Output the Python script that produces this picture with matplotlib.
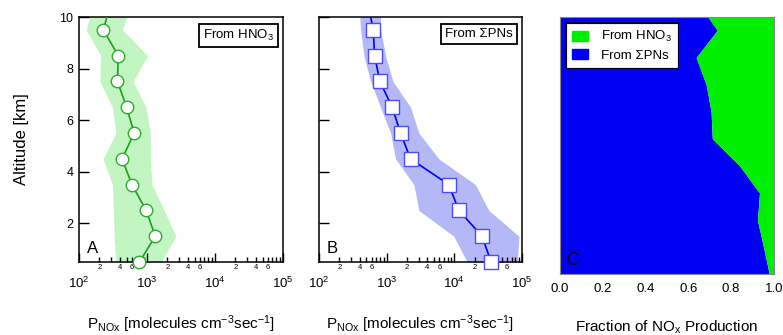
import matplotlib
matplotlib.use("Agg")
import matplotlib.pyplot as plt
import matplotlib.ticker as mticker
import matplotlib.patches as mpatches
import matplotlib.patheffects as pe
import numpy as np

plt.rcParams["font.family"] = ["Liberation Sans", "DejaVu Sans"]
plt.rcParams["mathtext.fontset"] = "custom"
plt.rcParams["mathtext.rm"] = "Liberation Sans"
plt.rcParams["mathtext.it"] = "Liberation Sans:italic"
plt.rcParams["mathtext.bf"] = "Liberation Sans:bold"

# altitude bins (km); the last one sits above the plotted range
altitude = [0.5, 1.5, 2.5, 3.5, 4.5, 5.5, 6.5, 7.5, 8.5, 9.5, 10.5]

# NOx production from HNO3 photolysis (molecules cm-3 s-1)
hno3 = [775, 1322, 975, 600, 430, 648, 502, 368, 378, 228, 290]
hno3_lo = [348, 328, 321, 310, 226, 348, 310, 202, 209, 128, 161]
hno3_hi = [1604, 2669, 1795, 1181, 1117, 1117, 963, 626, 1019, 436, 585]

# NOx production from sum of peroxynitrates
pns = [34900, 25700, 11640, 8280, 2254, 1604, 1208, 794, 663, 634, 530]
pns_lo = [15450, 9820, 2990, 2523, 1353, 1142, 813, 579, 461, 412, 389]
pns_hi = [85000, 90000, 32300, 20500, 5900, 2990, 2254, 1236, 963, 813, 813]

alt = np.array(altitude)
frac_pns = np.array(pns) / (np.array(pns) + np.array(hno3))

fig = plt.figure(figsize=(7.83, 3.35), dpi=100)
axA = fig.add_axes([0.1009, 0.2179, 0.2605, 0.7313])
axB = fig.add_axes([0.4074, 0.2179, 0.2593, 0.7313])
axC = fig.add_axes([0.7148, 0.1812, 0.2737, 0.7690])

xlab = r"P$_{\mathrm{NOx}}$ [molecules cm$^{-3}$sec$^{-1}$]"


def minor_fmt(x, pos):
    m = x / 10 ** np.floor(np.log10(x) + 1e-9)
    m = int(round(m))
    return str(m) if m in (2, 4, 6) else ""


def style_log_axis(ax):
    ax.set_xscale("log")
    ax.set_xlim(1e2, 1e5)
    ax.set_ylim(0.5, 10)
    ax.xaxis.set_major_locator(mticker.LogLocator(base=10, numticks=10))
    ax.xaxis.set_minor_locator(mticker.LogLocator(base=10, subs=range(2, 10), numticks=20))
    ax.xaxis.set_minor_formatter(mticker.FuncFormatter(minor_fmt))
    ax.set_yticks([2, 4, 6, 8, 10])
    ax.tick_params(axis="x", which="major", direction="in", length=6.5, width=1,
                   labelsize=9.5, pad=10, top=False)
    ax.tick_params(axis="x", which="minor", direction="in", length=3.6, width=1,
                   labelsize=5.5, pad=1.5, top=False)
    ax.tick_params(axis="y", which="major", direction="in", length=7, width=1,
                   labelsize=9, pad=4, right=False)
    for s in ax.spines.values():
        s.set_linewidth(1.1)
    ax.set_xlabel(xlab, fontsize=11, labelpad=16)


# Panel A
style_log_axis(axA)
axA.fill_betweenx(alt, hno3_lo, hno3_hi, color="#c2f5c2", lw=0)
axA.plot(hno3, alt, color="#1e9e1e", lw=1.2, zorder=3)
axA.plot(hno3[:-1], alt[:-1], ls="none", marker="o", ms=9, mfc="white",
         mec="#2eae2e", mew=1, zorder=4, clip_on=False)
axA.set_ylabel("Altitude [km]", fontsize=12, labelpad=22)
axA.text(0.955, 0.955, r"From HNO$_3$", transform=axA.transAxes, ha="right", va="top",
         fontsize=9.5, bbox=dict(boxstyle="square,pad=0.3", fc="white", ec="black", lw=1.3))
axA.text(0.04, 0.035, "A", transform=axA.transAxes, fontsize=12)

# Panel B
style_log_axis(axB)
axB.set_yticklabels([])
axB.fill_betweenx(alt, pns_lo, pns_hi, color="#b5b8f7", lw=0)
axB.plot(pns, alt, color="#0000f0", lw=1.2, zorder=3)
axB.plot(pns[:-1], alt[:-1], ls="none", marker="s", ms=9.5, mfc="white",
         mec="#4b4bff", mew=1, zorder=4, clip_on=False)
axB.text(0.955, 0.955, "From ΣPNs", transform=axB.transAxes, ha="right", va="top",
         fontsize=9.5, bbox=dict(boxstyle="square,pad=0.3", fc="white", ec="black", lw=1.3))
axB.text(0.04, 0.035, "B", transform=axB.transAxes, fontsize=12)

# Panel C
axC.fill_betweenx(alt, 0, frac_pns, color="#0000f5", lw=0)
axC.fill_betweenx(alt, frac_pns, 1, color="#00ee00", lw=0)
axC.set_xlim(0, 1)
axC.set_ylim(0.5, 10)
axC.set_yticks([])
axC.set_xticks([0, 0.2, 0.4, 0.6, 0.8, 1.0])
axC.xaxis.set_major_formatter(mticker.FormatStrFormatter("%.1f"))
axC.tick_params(axis="x", length=0, labelsize=9.5, pad=6)
for s in axC.spines.values():
    s.set_linewidth(0.8)
    s.set_color("#888888")
axC.set_xlabel(r"Fraction of NO$_{\mathrm{x}}$ Production", fontsize=11, labelpad=17)
axC.text(0.03, 0.035, "C", transform=axC.transAxes, fontsize=13)
handles = [mpatches.Patch(color="#00ee00", label=r"From HNO$_3$"),
           mpatches.Patch(color="#0000f5", label="From ΣPNs")]
leg = axC.legend(handles=handles, loc="upper left", fontsize=9.5, fancybox=False,
                 framealpha=1, borderaxespad=0.55, handlelength=1.2, handleheight=0.8,
                 handletextpad=1.0, borderpad=0.4, labelspacing=0.35)
frame = leg.get_frame()
frame.set_edgecolor("white")
frame.set_linewidth(0.6)
frame.set_path_effects([pe.Stroke(linewidth=2.6, foreground="black"), pe.Normal()])

fig.savefig("out.png", dpi=100)
